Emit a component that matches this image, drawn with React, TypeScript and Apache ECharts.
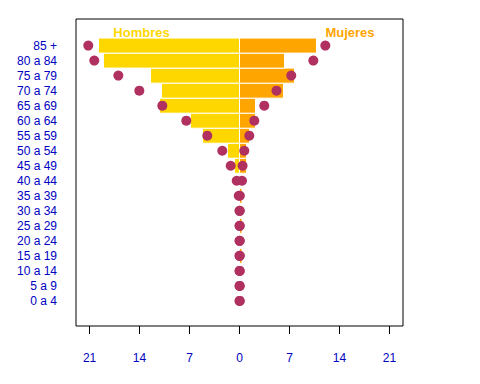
import React, { useEffect, useRef } from "react";
import * as echarts from "echarts";

// Age groups, listed bottom-up (index 0 = "0 a 4")
const ageGroups = [
  "0 a 4", "5 a 9", "10 a 14", "15 a 19", "20 a 24", "25 a 29", "30 a 34",
  "35 a 39", "40 a 44", "45 a 49", "50 a 54", "55 a 59", "60 a 64", "65 a 69",
  "70 a 74", "75 a 79", "80 a 84", "85 +",
];

// Bars (men negative, women positive)
const menBars = [
  0, 0, 0, 0, 0, 0, 0, 0, -0.05, -0.7, -1.68, -5.18, -6.86, -11.2, -10.92,
  -12.46, -19.05, -19.75,
];
const womenBars = [
  0, 0, 0, 0.35, 0, 0.35, 0, 0.35, 0.05, 0.98, 0.98, 1.4, 2.24, 2.24, 6.16,
  7.7, 6.3, 10.78,
];

// Points
const menDots = [
  0, 0, 0, 0, 0, 0, 0, -0.1, -0.39, -1.23, -2.41, -4.51, -7.45, -10.81,
  -14.03, -16.97, -20.34, -21.18,
];
const womenDots = [
  0.04, 0.04, 0.04, 0.04, 0.04, 0.04, 0.04, 0.05, 0.35, 0.43, 0.67, 1.37,
  2.07, 3.47, 5.18, 7.25, 10.34, 12.02,
];

const xTicks = [-21, -14, -7, 0, 7, 14, 21];
const seriesNames = ["Hombres", "Mujeres"];

const GOLD = "#FFD700";
const ORANGE = "#FFA500";
const MAROON = "#B03060";
const LABEL_BLUE = "#0000C0";
const FONT = "Liberation Sans, Arial, sans-serif";

function barRenderer(color: string) {
  return (params: any, api: any) => {
    const v = api.value(0);
    const idx = api.value(1);
    const p0 = api.coord([0, idx]);
    const p1 = api.coord([v, idx]);
    const h = api.size([0, 1])[1];
    return {
      type: "rect",
      shape: {
        x: Math.min(p0[0], p1[0]),
        y: p0[1] - h / 2,
        width: Math.abs(p1[0] - p0[0]),
        height: h,
      },
      style: { fill: color, stroke: "#ffffff", lineWidth: 1 },
    };
  };
}

export default function App() {
  const ref = useRef<HTMLDivElement>(null);

  useEffect(() => {
    document.body.style.margin = "0";
    if (!ref.current) return;
    const chart = echarts.init(ref.current, null, { renderer: "svg" });
    const idxs = ageGroups.map((_, i) => i);

    chart.setOption({
      animation: false,
      backgroundColor: "#ffffff",
      grid: {
        left: 76,
        top: 19,
        width: 327,
        height: 307,
        show: true,
        borderColor: "#000000",
        borderWidth: 1,
        backgroundColor: "transparent",
      },
      xAxis: {
        type: "value",
        min: -22.9,
        max: 22.9,
        axisLine: { show: false, onZero: false },
        splitLine: { show: false },
        axisTick: {
          show: true,
          customValues: xTicks,
          length: 8,
          lineStyle: { color: "#000000", width: 1 },
        },
        axisLabel: {
          customValues: xTicks,
          formatter: (v: number) => String(Math.abs(v)),
          margin: 26,
          color: LABEL_BLUE,
          fontSize: 12,
          fontFamily: FONT,
        },
      },
      yAxis: {
        type: "value",
        min: -1.67,
        max: 18.77,
        axisLine: { show: false, onZero: false },
        axisTick: { show: false },
        splitLine: { show: false },
        axisLabel: {
          customValues: idxs,
          formatter: (v: number) => ageGroups[Math.round(v)] ?? "",
          margin: 19,
          color: LABEL_BLUE,
          fontSize: 12,
          fontFamily: FONT,
        },
      },
      graphic: [
        {
          type: "text",
          x: 141.5,
          y: 32,
          style: {
            text: seriesNames[0],
            fill: GOLD,
            font: `bold 13px ${FONT}`,
            textAlign: "center",
            textVerticalAlign: "middle",
          },
        },
        {
          type: "text",
          x: 350,
          y: 32,
          style: {
            text: seriesNames[1],
            fill: ORANGE,
            font: `bold 13px ${FONT}`,
            textAlign: "center",
            textVerticalAlign: "middle",
          },
        },
      ],
      series: [
        {
          name: "HombresBar",
          type: "custom",
          renderItem: barRenderer(GOLD),
          encode: { x: 0, y: 1 },
          data: menBars.map((v, i) => [v, i]),
          z: 1,
        },
        {
          name: "MujeresBar",
          type: "custom",
          renderItem: barRenderer(ORANGE),
          encode: { x: 0, y: 1 },
          data: womenBars.map((v, i) => [v, i]),
          z: 1,
        },
        {
          name: "HombresDots",
          type: "scatter",
          symbol: "circle",
          symbolSize: 10,
          itemStyle: { color: MAROON, opacity: 1 },
          data: menDots.map((v, i) => [v, i]),
          z: 3,
        },
        {
          name: "MujeresDots",
          type: "scatter",
          symbol: "circle",
          symbolSize: 10,
          itemStyle: { color: MAROON, opacity: 1 },
          data: womenDots.map((v, i) => [v, i]),
          z: 3,
        },
      ],
    });

    return () => chart.dispose();
  }, []);

  return <div ref={ref} style={{ width: 480, height: 384 }} />;
}
